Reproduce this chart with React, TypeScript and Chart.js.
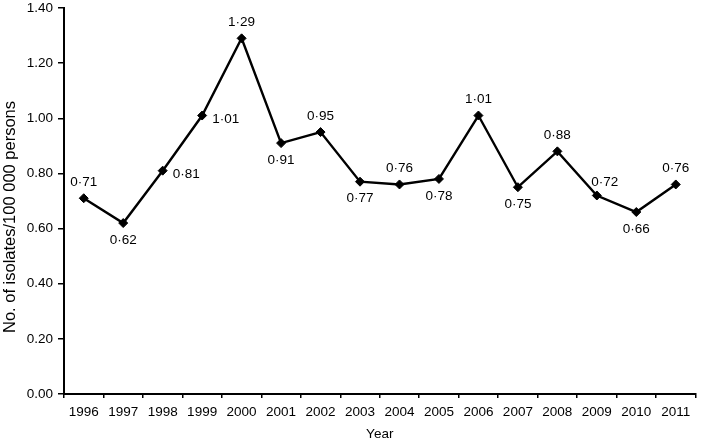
import React, { useEffect, useRef } from "react";
import { Chart, registerables } from "chart.js";

Chart.register(...registerables);

const years = ["1996", "1997", "1998", "1999", "2000", "2001", "2002", "2003", "2004", "2005", "2006", "2007", "2008", "2009", "2010", "2011"];
const isolatesPer100k = [0.71, 0.62, 0.81, 1.01, 1.29, 0.91, 0.95, 0.77, 0.76, 0.78, 1.01, 0.75, 0.88, 0.72, 0.66, 0.76];
const labelPlacement = ["above", "below", "right", "right", "above", "below", "above", "below", "above", "below", "above", "below", "above", "aboveRight", "below", "above"];
const yMin = 0;
const yMax = 1.4;
const yStep = 0.2;
const yTitle = "No. of isolates/100 000 persons";
const xTitle = "Year";

const FONT = "'Liberation Sans', Arial, Helvetica, sans-serif";

const valueLabels = {
  id: "valueLabels",
  afterDatasetsDraw(chart: any) {
    const ctx = chart.ctx;
    const meta = chart.getDatasetMeta(0);
    ctx.save();
    ctx.fillStyle = "#000";
    ctx.font = `13.5px ${FONT}`;
    ctx.textBaseline = "middle";
    meta.data.forEach((pt: any, i: number) => {
      const text = isolatesPer100k[i].toFixed(2).replace(".", "\u00B7");
      const p = labelPlacement[i];
      let x = pt.x;
      let y = pt.y;
      ctx.textAlign = "center";
      if (p === "above") {
        y -= 16;
      } else if (p === "below") {
        y += 17;
      } else if (p === "right") {
        x += 10;
        y += 4;
        ctx.textAlign = "left";
      } else if (p === "aboveRight") {
        x += 8;
        y -= 13;
      }
      ctx.fillText(text, x, y);
    });
    ctx.restore();
  },
};

const yTitlePlugin = {
  id: "yTitlePlugin",
  afterDraw(chart: any) {
    const ctx = chart.ctx;
    ctx.save();
    ctx.fillStyle = "#000";
    ctx.font = `16.5px ${FONT}`;
    ctx.textAlign = "center";
    ctx.textBaseline = "middle";
    ctx.translate(10, 217);
    ctx.rotate(-Math.PI / 2);
    ctx.fillText(yTitle, 0, 0);
    ctx.restore();
  },
};

export default function App() {
  const ref = useRef<HTMLCanvasElement | null>(null);
  useEffect(() => {
    if (!ref.current) return;
    const chart = new Chart(ref.current, {
      type: "line",
      data: {
        labels: years,
        datasets: [
          {
            data: isolatesPer100k,
            borderColor: "#000",
            backgroundColor: "#000",
            borderWidth: 2.4,
            pointStyle: "rectRot",
            pointRadius: 4.5,
            pointBorderWidth: 1,
            pointBackgroundColor: "#000",
            pointBorderColor: "#000",
            tension: 0,
          },
        ],
      },
      plugins: [valueLabels, yTitlePlugin],
      options: {
        responsive: false,
        animation: false,
        layout: { padding: { top: 8, right: 0.5, left: 0, bottom: 0 } },
        plugins: { legend: { display: false }, tooltip: { enabled: false } },
        scales: {
          x: {
            offset: true,
            grid: { offset: true, drawOnChartArea: false, drawTicks: true, tickLength: 4, color: "#000", lineWidth: 1.5 },
            border: { display: true, color: "#000", width: 2 },
            ticks: { color: "#000", font: { family: FONT, size: 13.5 }, padding: 6, maxRotation: 0, autoSkip: false },
            title: { display: true, text: xTitle, color: "#000", font: { family: FONT, size: 13.5 }, padding: { top: 0, bottom: 0 } },
            afterFit(scale: any) {
              scale.height = 48;
              scale.paddingLeft = 0;
              scale.paddingRight = 0;
            },
          },
          y: {
            min: yMin,
            max: yMax,
            grid: { drawOnChartArea: false, drawTicks: true, tickLength: 6, color: "#000", lineWidth: 1.5 },
            border: { display: true, color: "#000", width: 2 },
            ticks: {
              stepSize: yStep,
              color: "#000",
              font: { family: FONT, size: 13.5 },
              padding: 5,
              callback: (v: any) => Number(v).toFixed(2),
            },
            afterFit(scale: any) {
              scale.width = 64;
              scale.paddingTop = 0;
              scale.paddingBottom = 0;
            },
          },
        },
      },
    });
    return () => chart.destroy();
  }, []);
  return (
    <div style={{ position: "fixed", left: 0, top: 0, width: 701, height: 442, background: "#fff" }}>
      <canvas ref={ref} width={701} height={442} style={{ width: 701, height: 442, display: "block" }} />
    </div>
  );
}
